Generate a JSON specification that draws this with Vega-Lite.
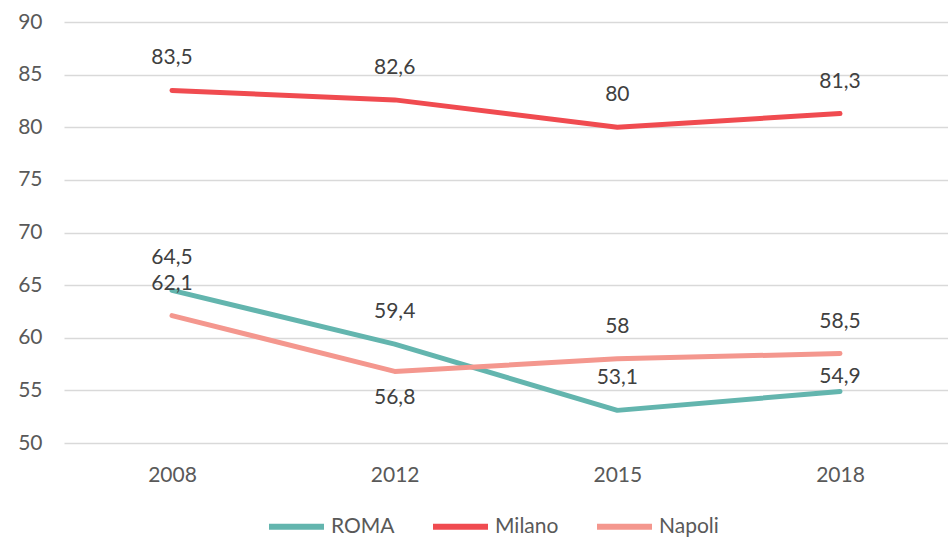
{
  "$schema": "https://vega.github.io/schema/vega-lite/v6.json",
  "width": 884,
  "height": 421,
  "autosize": "none",
  "padding": {"left": 64, "top": 22, "right": 0, "bottom": 96},
  "background": "white",
  "config": {
    "view": {"stroke": null},
    "font": "Lato",
    "locale": {"number": {"decimal": ",", "thousands": ".", "grouping": [3], "currency": ["€", ""]}}
  },
  "data": {
    "values": [
      {"year": "2008", "city": "ROMA", "value": 64.5},
      {"year": "2012", "city": "ROMA", "value": 59.4},
      {"year": "2015", "city": "ROMA", "value": 53.1},
      {"year": "2018", "city": "ROMA", "value": 54.9},
      {"year": "2008", "city": "Milano", "value": 83.5},
      {"year": "2012", "city": "Milano", "value": 82.6},
      {"year": "2015", "city": "Milano", "value": 80},
      {"year": "2018", "city": "Milano", "value": 81.3},
      {"year": "2008", "city": "Napoli", "value": 62.1},
      {"year": "2012", "city": "Napoli", "value": 56.8},
      {"year": "2015", "city": "Napoli", "value": 58},
      {"year": "2018", "city": "Napoli", "value": 58.5}
    ]
  },
  "encoding": {
    "x": {
      "field": "year", "type": "ordinal",
      "scale": {"type": "point", "padding": 0.485},
      "axis": {"title": null, "domain": false, "ticks": false, "grid": false, "labelAngle": 0,
               "labelFontSize": 21, "labelColor": "#595959", "labelPadding": 21, "labelFont": "Lato"}
    },
    "y": {
      "field": "value", "type": "quantitative",
      "scale": {"domain": [50, 90], "nice": false, "zero": false},
      "axis": {"title": null, "domain": false, "ticks": false, "values": [50,55,60,65,70,75,80,85,90],
               "gridColor": "#d9d9d9", "gridWidth": 1.5, "labelFontSize": 21, "labelColor": "#595959",
               "labelPadding": 22, "labelFont": "Lato"}
    }
  },
  "layer": [
    {
      "mark": {"type": "line", "strokeWidth": 5, "strokeCap": "round", "strokeJoin": "round"},
      "encoding": {
        "color": {
          "field": "city", "type": "nominal",
          "scale": {"domain": ["ROMA", "Milano", "Napoli"], "range": ["#63b5ae", "#f04b50", "#f4978e"]},
          "legend": {
            "title": null, "orient": "none", "direction": "horizontal",
            "legendX": 202, "legendY": 474,
            "symbolType": "stroke", "symbolSize": 3025, "symbolStrokeWidth": 6,
            "labelFontSize": 21, "labelColor": "#595959", "labelOffset": 4, "columnPadding": 26,
            "labelFont": "Lato", "labelBaseline": "middle"
          }
        }
      }
    },
    {
      "transform": [{"filter": "!((datum.city == 'Napoli' && datum.year == '2012') || (datum.city == 'ROMA' && datum.year == '2018'))"}],
      "mark": {"type": "text", "fontSize": 21, "color": "#404040", "dy": -32, "baseline": "middle"},
      "encoding": {"text": {"field": "value", "type": "quantitative", "format": ".1~f"}}
    },
    {
      "transform": [{"filter": "datum.city == 'ROMA' && datum.year == '2018'"}],
      "mark": {"type": "text", "fontSize": 21, "color": "#404040", "dy": -14, "baseline": "middle"},
      "encoding": {"text": {"field": "value", "type": "quantitative", "format": ".1~f"}}
    },
    {
      "transform": [{"filter": "datum.city == 'Napoli' && datum.year == '2012'"}],
      "mark": {"type": "text", "fontSize": 21, "color": "#404040", "dy": 27, "baseline": "middle"},
      "encoding": {"text": {"field": "value", "type": "quantitative", "format": ".1~f"}}
    }
  ]
}
